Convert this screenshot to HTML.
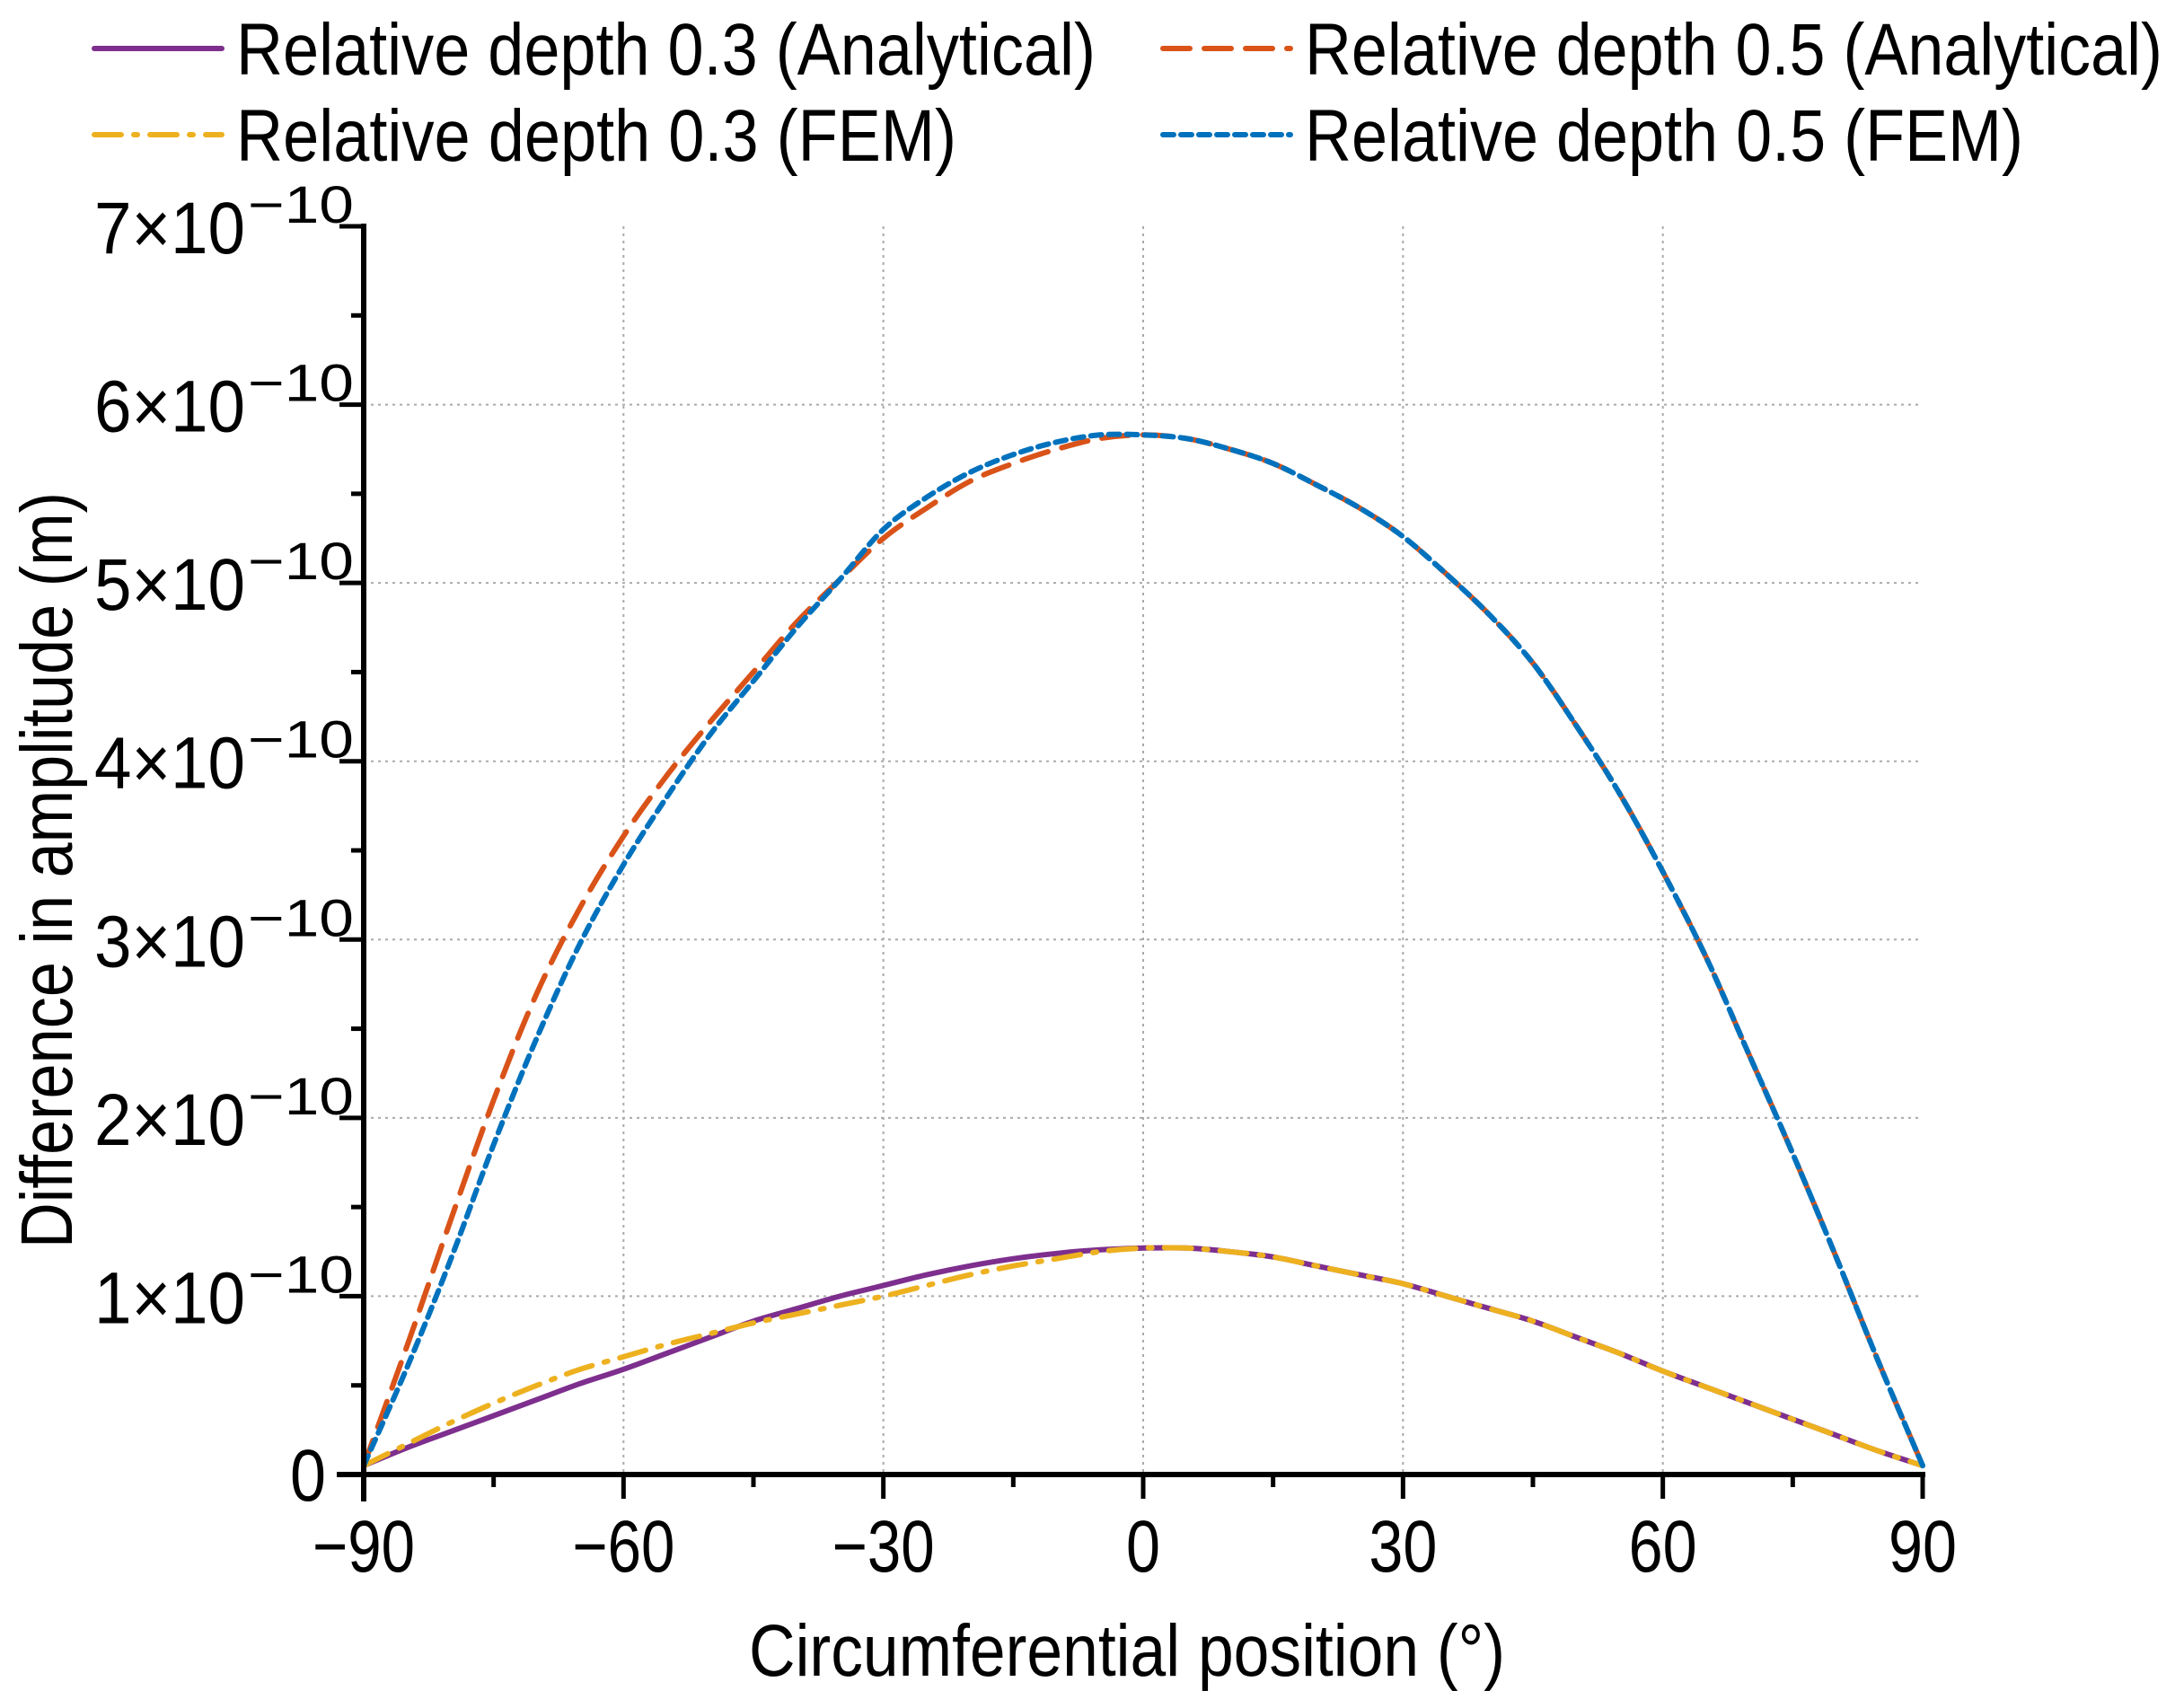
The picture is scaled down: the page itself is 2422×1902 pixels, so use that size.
<!DOCTYPE html>
<html><head><meta charset="utf-8"><style>
html,body{margin:0;padding:0;background:#fff}
svg{display:block;font-family:"Liberation Sans",Arial,sans-serif}
</style></head><body>
<svg id="chart" width="2422" height="1902" viewBox="0 0 2422 1902" xmlns="http://www.w3.org/2000/svg">
<g id="grid"></g>
<g id="series"></g>
<g id="axes"></g>
<g id="legend"></g>
<text x="1255" y="1866" font-size="82" text-anchor="middle" textLength="842" lengthAdjust="spacingAndGlyphs">Circumferential position (°)</text>
<text x="0" y="0" font-size="82" text-anchor="middle" textLength="842" lengthAdjust="spacingAndGlyphs" transform="translate(80,969) rotate(-90)">Difference in amplitude (m)</text>
</svg>
<script>
const positions = [-90,-85,-80,-75,-70,-65,-60,-55,-50,-45,-40,-35,-30,-25,-20,-15,-10,-5,0,5,10,15,20,25,30,35,40,45,50,55,60,65,70,75,80,85,90];
const ana05 = [0.05,0.72,1.42,2.1,2.7,3.18,3.58,3.92,4.22,4.5,4.78,5.02,5.25,5.42,5.57,5.67,5.75,5.81,5.83,5.81,5.75,5.67,5.55,5.42,5.26,5.05,4.82,4.55,4.2,3.82,3.38,2.9,2.35,1.8,1.22,0.62,0.05];
const fem05 = [0.05,0.6,1.2,1.85,2.45,2.98,3.42,3.8,4.15,4.45,4.75,5.02,5.3,5.48,5.62,5.72,5.79,5.83,5.83,5.81,5.75,5.67,5.55,5.42,5.26,5.05,4.82,4.55,4.2,3.82,3.38,2.9,2.35,1.8,1.22,0.62,0.05];
const ana03 = [0.05,0.15,0.24,0.33,0.42,0.51,0.59,0.68,0.77,0.86,0.93,1.0,1.06,1.12,1.17,1.21,1.24,1.26,1.27,1.27,1.25,1.22,1.17,1.12,1.07,1.0,0.93,0.86,0.77,0.68,0.58,0.49,0.4,0.31,0.22,0.13,0.05];
const fem03 = [0.05,0.17,0.29,0.4,0.5,0.59,0.66,0.73,0.79,0.85,0.9,0.95,1.0,1.06,1.12,1.17,1.21,1.25,1.27,1.27,1.25,1.22,1.17,1.12,1.07,1.0,0.93,0.86,0.77,0.68,0.58,0.49,0.4,0.31,0.22,0.13,0.05];
const xTicks = [-90,-60,-30,0,30,60,90];
const xTickLabels = ["\u221290","\u221260","\u221230","0","30","60","90"];
const yTicks = [0,1,2,3,4,5,6,7];
const yMantissa = ["0","1","2","3","4","5","6","7"];

const NS="http://www.w3.org/2000/svg";
const X0=405,X1=2141,Y0=1642,Y1=252;
function sx(v){return X0+(v+90)/180*(X1-X0);}
function sy(v){return Y0-v/7*(Y0-Y1);}
function mk(tag,attrs,parent){const e=document.createElementNS(NS,tag);for(const k in attrs)e.setAttribute(k,attrs[k]);parent.appendChild(e);return e;}
const grid=document.getElementById('grid'),axes=document.getElementById('axes'),series=document.getElementById('series'),legend=document.getElementById('legend');

xTicks.forEach(v=>{if(v===-90||v===90)return;
 const l=mk('line',{x1:sx(v),x2:sx(v),y1:Y1,y2:Y0,stroke:'#aaa','stroke-width':2,'stroke-dasharray':'3 5'},grid);
 
 });
yTicks.forEach(v=>{if(v===0||v===7)return;
 const l=mk('line',{x1:X0,x2:X1,y1:sy(v),y2:sy(v),stroke:'#aaa','stroke-width':2,'stroke-dasharray':'3 5'},grid);
 
 });

function smoothPath(xs,ys){
 let d='M'+xs[0].toFixed(1)+','+ys[0].toFixed(1);
 for(let i=0;i<xs.length-1;i++){
  const x0=xs[Math.max(i-1,0)],y0=ys[Math.max(i-1,0)],x1=xs[i],y1=ys[i],x2=xs[i+1],y2=ys[i+1],x3=xs[Math.min(i+2,xs.length-1)],y3=ys[Math.min(i+2,xs.length-1)];
  const c1x=x1+(x2-x0)/6,c1y=y1+(y2-y0)/6,c2x=x2-(x3-x1)/6,c2y=y2-(y3-y1)/6;
  d+=' C'+c1x.toFixed(1)+','+c1y.toFixed(1)+' '+c2x.toFixed(1)+','+c2y.toFixed(1)+' '+x2.toFixed(1)+','+y2.toFixed(1);
 }
 return d;
}
function drawSeries(vals,color,dash,name){
 const a={d:smoothPath(positions.map(sx),vals.map(sy)),fill:'none',stroke:color,'stroke-width':6,'stroke-linejoin':'round','stroke-linecap':'round'};
 if(dash)a['stroke-dasharray']=dash;
 const pl=mk('path',a,series);
 
 
}
drawSeries(ana03,'#7E2F8E',null,'line-depth-03-analytical');
drawSeries(fem03,'#EDB120','30 14 4 14','line-depth-03-fem');
drawSeries(ana05,'#D95319','30 16','line-depth-05-analytical');
drawSeries(fem05,'#0072BD','12 8','line-depth-05-fem');

let ax=mk('line',{x1:X0-30,x2:X1+3,y1:Y0,y2:Y0,stroke:'#000','stroke-width':6},axes);


ax=mk('line',{x1:X0,x2:X0,y1:Y1-3,y2:Y0+30,stroke:'#000','stroke-width':6},axes);


for(let v=-90;v<=90;v+=15){const major=v%30===0;
 const t=mk('line',{x1:sx(v),x2:sx(v),y1:Y0,y2:Y0+(major?27:14),stroke:'#000','stroke-width':5},axes);
 
 }
for(let v=0;v<=7;v+=0.5){const major=v%1===0;
 const t=mk('line',{x1:X0,x2:X0-(major?27:14),y1:sy(v),y2:sy(v),stroke:'#000','stroke-width':5},axes);
 
 }
xTicks.forEach((v,i)=>{const lab=xTickLabels[i];
 const t=mk('text',{x:sx(v),y:Y0+108,'font-size':82,'text-anchor':'middle',textLength:lab.length*38,lengthAdjust:'spacingAndGlyphs'},axes);
 t.textContent=lab;
 
 });
yTicks.forEach((v,i)=>{const y=sy(v);
 if(v===0){const t=mk('text',{x:X0-42,y:y+29,'font-size':82,'text-anchor':'end',textLength:40,lengthAdjust:'spacingAndGlyphs'},axes);t.textContent='0';
  
  return;}
 const g=mk('g',{},axes);
 
 
 const m=mk('text',{x:105,y:y+30,'font-size':82,textLength:168,lengthAdjust:'spacingAndGlyphs'},g);
 m.textContent=yMantissa[i]+'\u00d710';
 const s=mk('text',{x:276,y:y-4,'font-size':58,textLength:118,lengthAdjust:'spacingAndGlyphs'},g);
 s.textContent='\u221210';});

const legItems=[
 {x:105,y:54,c:'#7E2F8E',d:null,t:'Relative depth 0.3 (Analytical)',w:957,n:'legend-entry-depth-03-analytical'},
 {x:1295,y:54,c:'#D95319',d:'30 16',t:'Relative depth 0.5 (Analytical)',w:955,n:'legend-entry-depth-05-analytical'},
 {x:105,y:150,c:'#EDB120',d:'30 14 4 14',t:'Relative depth 0.3 (FEM)',w:802,n:'legend-entry-depth-03-fem'},
 {x:1295,y:150,c:'#0072BD',d:'12 8',t:'Relative depth 0.5 (FEM)',w:800,n:'legend-entry-depth-05-fem'}];
legItems.forEach(it=>{const g=mk('g',{},legend);
 
 
 const a={x1:it.x,x2:it.x+142,y1:it.y,y2:it.y,stroke:it.c,'stroke-width':6,'stroke-linecap':'round'};
 if(it.d)a['stroke-dasharray']=it.d;
 mk('line',a,g);
 const t=mk('text',{x:it.x+158,y:it.y+29,'font-size':82,textLength:it.w,lengthAdjust:'spacingAndGlyphs'},g);
 t.textContent=it.t;});
</script>
</body></html>
